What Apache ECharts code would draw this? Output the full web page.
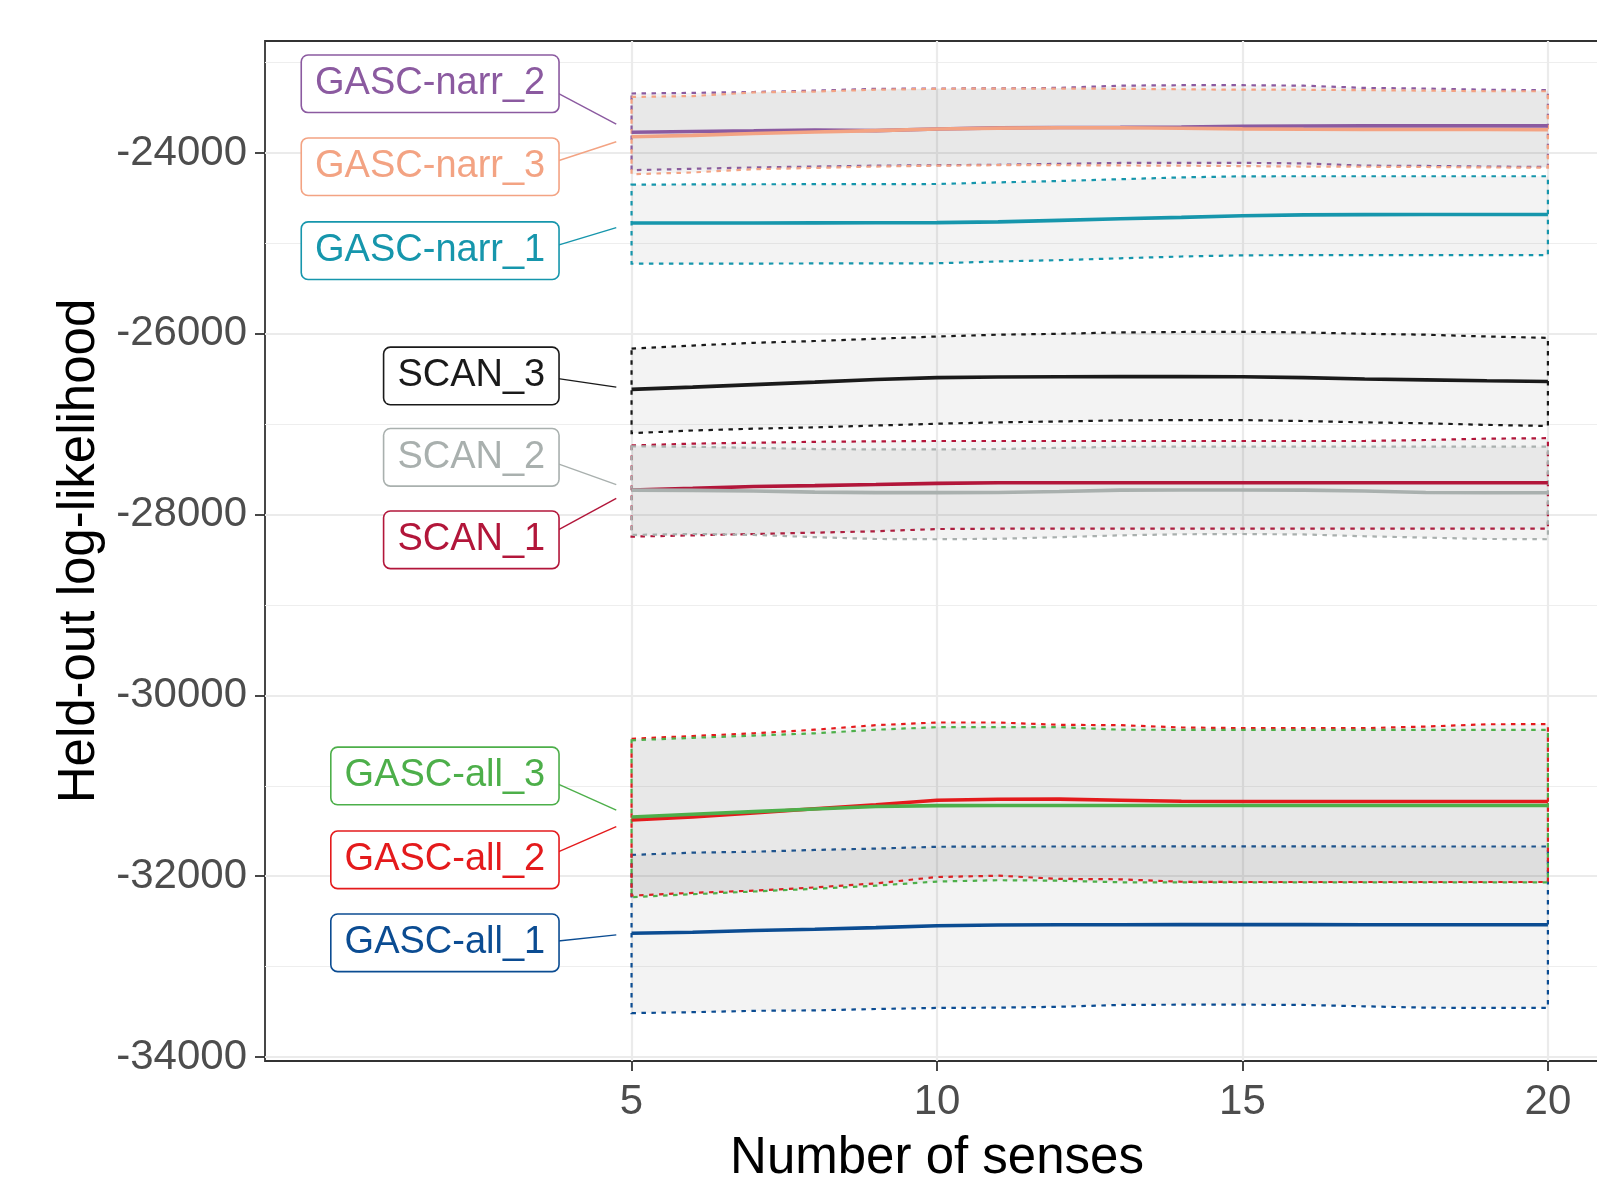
<!DOCTYPE html>
<html>
<head>
<meta charset="utf-8">
<script src="https://cdn.jsdelivr.net/npm/echarts@6/dist/echarts.min.js"></script>
<style>
  html, body { margin: 0; padding: 0; background: #fff; }
  #chart { width: 1597px; height: 1179px; }
</style>
</head>
<body>
<div id="chart"></div>
<script>
// x values (number of senses) and axis breaks
const senses = [5, 6, 7, 8, 9, 10, 11, 12, 13, 14, 15, 16, 17, 18, 19, 20]
const xTickValues = [5, 10, 15, 20]
const yTickValues = [-34000, -32000, -30000, -28000, -26000, -24000]
const yMinorValues = [-33000, -31000, -29000, -27000, -25000, -23000]

// GASC-all_1
const gascAll1Mean = [-32632, -32620, -32602, -32588, -32570, -32548, -32540, -32538, -32537, -32536, -32536, -32536, -32537, -32537, -32538, -32538]
const gascAll1Lower = [-33515, -33505, -33490, -33485, -33470, -33458, -33455, -33445, -33425, -33422, -33422, -33425, -33440, -33455, -33458, -33458]
const gascAll1Upper = [-31765, -31740, -31730, -31710, -31695, -31675, -31672, -31672, -31672, -31671, -31671, -31671, -31672, -31672, -31672, -31672]
// GASC-all_2
const gascAll2Mean = [-31378, -31345, -31300, -31255, -31210, -31160, -31150, -31148, -31160, -31172, -31174, -31174, -31174, -31174, -31174, -31174]
const gascAll2Lower = [-32215, -32185, -32160, -32125, -32080, -32010, -31995, -32030, -32035, -32062, -32065, -32065, -32065, -32065, -32065, -32065]
const gascAll2Upper = [-30480, -30450, -30420, -30380, -30330, -30300, -30300, -30326, -30330, -30355, -30363, -30363, -30363, -30345, -30320, -30318]
// GASC-all_3
const gascAll3Mean = [-31345, -31315, -31286, -31257, -31230, -31220, -31219, -31219, -31219, -31219, -31219, -31219, -31219, -31219, -31219, -31219]
const gascAll3Lower = [-32232, -32200, -32170, -32140, -32105, -32060, -32045, -32050, -32068, -32069, -32069, -32069, -32069, -32069, -32069, -32069]
const gascAll3Upper = [-30497, -30470, -30445, -30420, -30380, -30352, -30351, -30352, -30380, -30381, -30381, -30381, -30381, -30381, -30381, -30381]
// GASC-narr_1
const gascNarr1Mean = [-24775, -24775, -24774, -24773, -24772, -24770, -24762, -24745, -24728, -24712, -24695, -24685, -24682, -24680, -24680, -24680]
const gascNarr1Lower = [-25225, -25224, -25223, -25222, -25222, -25220, -25200, -25185, -25165, -25145, -25132, -25130, -25130, -25130, -25130, -25130]
const gascNarr1Upper = [-24350, -24348, -24346, -24345, -24345, -24343, -24325, -24310, -24290, -24270, -24258, -24257, -24257, -24257, -24257, -24257]
// GASC-narr_2
const gascNarr2Mean = [-23770, -23762, -23755, -23745, -23752, -23735, -23722, -23718, -23716, -23712, -23705, -23702, -23700, -23700, -23700, -23700]
const gascNarr2Lower = [-24190, -24175, -24160, -24150, -24140, -24135, -24130, -24120, -24110, -24109, -24109, -24115, -24140, -24143, -24150, -24155]
const gascNarr2Upper = [-23342, -23335, -23325, -23310, -23290, -23287, -23285, -23280, -23255, -23250, -23250, -23255, -23280, -23287, -23300, -23305]
// GASC-narr_3
const gascNarr3Mean = [-23820, -23805, -23785, -23768, -23752, -23735, -23725, -23720, -23720, -23726, -23733, -23738, -23740, -23740, -23740, -23742]
const gascNarr3Lower = [-24235, -24215, -24180, -24165, -24150, -24140, -24135, -24135, -24138, -24140, -24145, -24150, -24152, -24155, -24160, -24162]
const gascNarr3Upper = [-23380, -23370, -23330, -23320, -23300, -23290, -23287, -23287, -23290, -23295, -23300, -23300, -23305, -23310, -23317, -23317]
// SCAN_1
const scan1Mean = [-27728, -27710, -27690, -27680, -27668, -27655, -27648, -27648, -27648, -27648, -27648, -27648, -27648, -27648, -27648, -27648]
const scan1Lower = [-28244, -28230, -28215, -28200, -28185, -28160, -28156, -28156, -28156, -28156, -28156, -28156, -28156, -28156, -28156, -28156]
const scan1Upper = [-27235, -27215, -27205, -27195, -27190, -27186, -27186, -27186, -27186, -27186, -27186, -27186, -27186, -27175, -27160, -27155]
// SCAN_2
const scan2Mean = [-27730, -27732, -27740, -27752, -27757, -27757, -27755, -27745, -27730, -27728, -27728, -27730, -27740, -27755, -27758, -27758]
const scan2Lower = [-28225, -28215, -28225, -28250, -28270, -28273, -28268, -28250, -28230, -28218, -28215, -28220, -28240, -28255, -28270, -28273]
const scan2Upper = [-27245, -27250, -27262, -27275, -27279, -27279, -27275, -27262, -27250, -27249, -27249, -27249, -27249, -27249, -27249, -27249]
// SCAN_3
const scan3Mean = [-26615, -26590, -26562, -26535, -26505, -26485, -26478, -26475, -26474, -26474, -26476, -26485, -26500, -26510, -26520, -26528]
const scan3Lower = [-27100, -27070, -27050, -27035, -27015, -26995, -26980, -26970, -26958, -26955, -26955, -26965, -26980, -26990, -27008, -27020]
const scan3Upper = [-26165, -26130, -26100, -26080, -26055, -26030, -26010, -26000, -25985, -25980, -25978, -25985, -26000, -26010, -26030, -26045]

// repelled label positions (data units)
const labelRightX = 3.8
const labelSegmentEndX = 4.75

const models = [
  { name: 'GASC-all_1', color: '#0B4C92', mean: gascAll1Mean, lower: gascAll1Lower, upper: gascAll1Upper, labelY: -32738 },
  { name: 'GASC-all_2', color: '#E41A1C', mean: gascAll2Mean, lower: gascAll2Lower, upper: gascAll2Upper, labelY: -31820 },
  { name: 'GASC-all_3', color: '#4DAF4A', mean: gascAll3Mean, lower: gascAll3Lower, upper: gascAll3Upper, labelY: -30891 },
  { name: 'GASC-narr_1', color: '#1696AC', mean: gascNarr1Mean, lower: gascNarr1Lower, upper: gascNarr1Upper, labelY: -25081 },
  { name: 'GASC-narr_2', color: '#8B5AA0', mean: gascNarr2Mean, lower: gascNarr2Lower, upper: gascNarr2Upper, labelY: -23234 },
  { name: 'GASC-narr_3', color: '#F3A383', mean: gascNarr3Mean, lower: gascNarr3Lower, upper: gascNarr3Upper, labelY: -24152 },
  { name: 'SCAN_1', color: '#B2163A', mean: scan1Mean, lower: scan1Lower, upper: scan1Upper, labelY: -28279 },
  { name: 'SCAN_2', color: '#A9B0AE', mean: scan2Mean, lower: scan2Lower, upper: scan2Upper, labelY: -27367 },
  { name: 'SCAN_3', color: '#1A1A1A', mean: scan3Mean, lower: scan3Lower, upper: scan3Upper, labelY: -26466 }
]

const FONT = '"Liberation Sans", Arial, sans-serif'

// ribbon = one closed polygon, dotted outline
function ribbonSeries(m) {
  return {
    type: 'custom',
    name: m.name + ' band',
    silent: true,
    data: senses.map((x, i) => [x, m.lower[i], m.upper[i]]),
    encode: { x: 0, y: [1, 2] },
    renderItem(params, api) {
      if (params.dataIndex !== 0) return null
      const top = senses.map((x, i) => api.coord([x, m.upper[i]]))
      const bottom = senses.map((x, i) => api.coord([x, m.lower[i]])).reverse()
      return {
        type: 'polygon',
        shape: { points: top.concat(bottom) },
        style: {
          fill: 'rgba(127,127,127,0.09)',
          stroke: m.color,
          lineWidth: 2.2,
          lineDash: [4.5, 5.5]
        }
      }
    }
  }
}

function lineSeries(m) {
  return {
    type: 'line',
    name: m.name,
    data: senses.map((x, i) => [x, m.mean[i]]),
    showSymbol: false,
    silent: true,
    lineStyle: { color: m.color, width: 3.6 },
    itemStyle: { color: m.color }
  }
}

const labelSeries = {
  type: 'custom',
  name: 'labels',
  silent: true,
  data: models.map(m => [labelRightX, m.labelY]),
  encode: { x: 0, y: 1 },
  renderItem(params, api) {
    const m = models[params.dataIndex]
    const box = api.coord([labelRightX, m.labelY])
    const pt = api.coord([senses[0], m.mean[0]])
    const sx = box[0]
    const sy = box[1] + (pt[1] - box[1]) * 0.2
    const endX = api.coord([labelSegmentEndX, m.mean[0]])[0]
    const t = (endX - sx) / (pt[0] - sx)
    const ey = sy + (pt[1] - sy) * t
    return {
      type: 'group',
      children: [
        {
          type: 'line',
          shape: { x1: sx, y1: sy, x2: endX, y2: ey },
          style: { stroke: m.color, lineWidth: 1.4 }
        },
        {
          type: 'text',
          x: box[0],
          y: box[1],
          style: {
            text: m.name,
            fill: m.color,
            font: '38px ' + FONT,
            align: 'right',
            verticalAlign: 'middle',
            backgroundColor: '#fff',
            borderColor: m.color,
            borderWidth: 1.6,
            borderRadius: 6,
            padding: [10, 13, 8, 13]
          }
        }
      ]
    }
  }
}

const chart = echarts.init(document.getElementById('chart'))
chart.setOption({
  animation: false,
  backgroundColor: '#fff',
  grid: {
    left: 265,
    top: 41,
    width: 1344,
    height: 1020,
    containLabel: false,
    outerBoundsMode: 'none',
    show: true,
    borderColor: '#333333',
    borderWidth: 1.8,
    backgroundColor: 'transparent'
  },
  xAxis: {
    type: 'value',
    min: -1,
    max: 21,
    name: 'Number of senses',
    nameLocation: 'middle',
    nameGap: 72,
    nameTextStyle: { fontSize: 51, color: '#000', fontFamily: FONT },
    axisLine: { show: false, onZero: false },
    axisTick: { show: true, length: 10, customValues: xTickValues, lineStyle: { color: '#333', width: 1.8 } },
    axisLabel: { customValues: xTickValues, fontSize: 42, color: '#4D4D4D', fontFamily: FONT, margin: 20 },
    splitLine: { show: true, lineStyle: { color: '#EBEBEB', width: 2.2 } }
  },
  yAxis: [
    {
      type: 'value',
      min: -34045,
      max: -22761,
      name: 'Held-out log-likelihood',
      nameLocation: 'middle',
      nameGap: 153,
      nameTextStyle: { fontSize: 51, color: '#000', fontFamily: FONT },
      axisLine: { show: false, onZero: false },
      axisTick: { show: true, length: 10, customValues: yTickValues, lineStyle: { color: '#333', width: 1.8 } },
      axisLabel: {
        customValues: yTickValues,
        fontSize: 42,
        color: '#4D4D4D',
        fontFamily: FONT,
        margin: 18,
        formatter: v => String(v)
      },
      splitLine: { show: true, lineStyle: { color: '#EBEBEB', width: 2.2 } }
    },
    {
      // minor grid lines only
      type: 'value',
      min: -34045,
      max: -22761,
      position: 'left',
      axisLine: { show: false, onZero: false },
      axisTick: { show: false, customValues: yMinorValues },
      axisLabel: { show: false, customValues: yMinorValues },
      splitLine: { show: true, lineStyle: { color: '#EEEEEE', width: 1.2 } }
    }
  ],
  series: models.map(ribbonSeries).concat(models.map(lineSeries), [labelSeries])
})
</script>
</body>
</html>
